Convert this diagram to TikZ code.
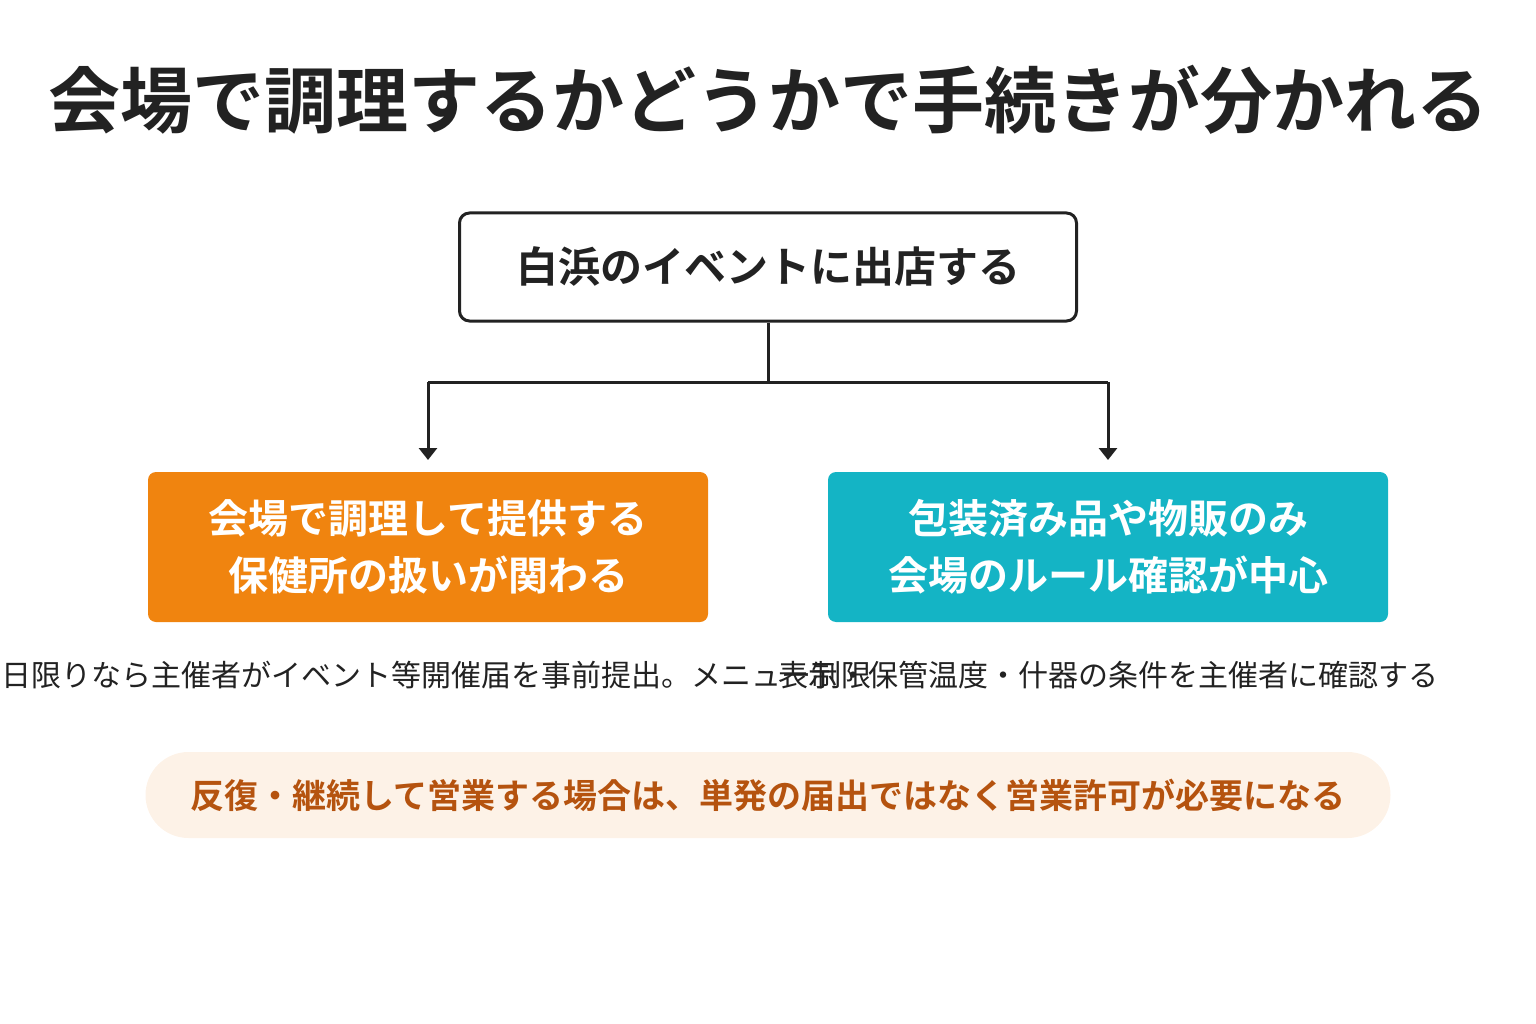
\documentclass[tikz,border=0pt]{standalone}
\usepackage{fontspec}
\setmainfont{Noto Sans CJK JP}
\newfontfamily\jpb{Noto Sans CJK JP Bold}
\usetikzlibrary{arrows.meta,calc}
\definecolor{orng}{HTML}{F0840F}
\definecolor{teal2}{HTML}{14B4C5}
\definecolor{pillbg}{HTML}{FDF2E7}
\definecolor{pilltx}{HTML}{B5530F}
\definecolor{ink}{HTML}{222222}
\begin{document}
\begin{tikzpicture}[x=1pt,y=-1pt,
  link/.style={ink,line width=3pt},
  arr/.style={link,-{Triangle[length=12pt,width=18pt]}}]
\useasboundingbox (0,0) rectangle (1536,1024);
\clip (0,0) rectangle (1536,1024);
\node[ink,font=\jpb\fontsize{72}{80}\selectfont] (title) at (768,100) {会場で調理するかどうかで手続きが分かれる};
\node[draw=ink,line width=3pt,rounded corners=10pt,minimum width=617pt,minimum height=108pt,font=\jpb\fontsize{42}{48}\selectfont,ink] (top) at (768,267) {白浜のイベントに出店する};
\node[fill=orng,rounded corners=8pt,minimum width=560pt,minimum height=150pt,text=white,align=center,font=\jpb\fontsize{40}{57}\selectfont] (l) at (428,547) {会場で調理して提供する\\保健所の扱いが関わる};
\node[fill=teal2,rounded corners=8pt,minimum width=560pt,minimum height=150pt,text=white,align=center,font=\jpb\fontsize{40}{57}\selectfont] (r) at (1108,547) {包装済み品や物販のみ\\会場のルール確認が中心};
\coordinate (j) at (768,382);
\coordinate (jl) at (428,382);
\coordinate (jr) at (1108,382);
\draw[link] (top.south) -- (j);
\draw[arr] (jl) -- (428,460);
\draw[arr] (jr) -- (1108,460);
\draw[link] (jl) -- (jr);
\node[ink,font=\fontsize{30}{36}\selectfont] (ln) at (428,675) {1日限りなら主催者がイベント等開催届を事前提出。メニュー制限};
\node[ink,font=\fontsize{30}{36}\selectfont] (rn) at (1108,675) {表示・保管温度・什器の条件を主催者に確認する};
\node[fill=pillbg,rounded corners=43pt,minimum width=1245pt,minimum height=86pt,text=pilltx,font=\jpb\fontsize{34}{40}\selectfont] (pill) at (768,795) {反復・継続して営業する場合は、単発の届出ではなく営業許可が必要になる};
\end{tikzpicture}
\end{document}
